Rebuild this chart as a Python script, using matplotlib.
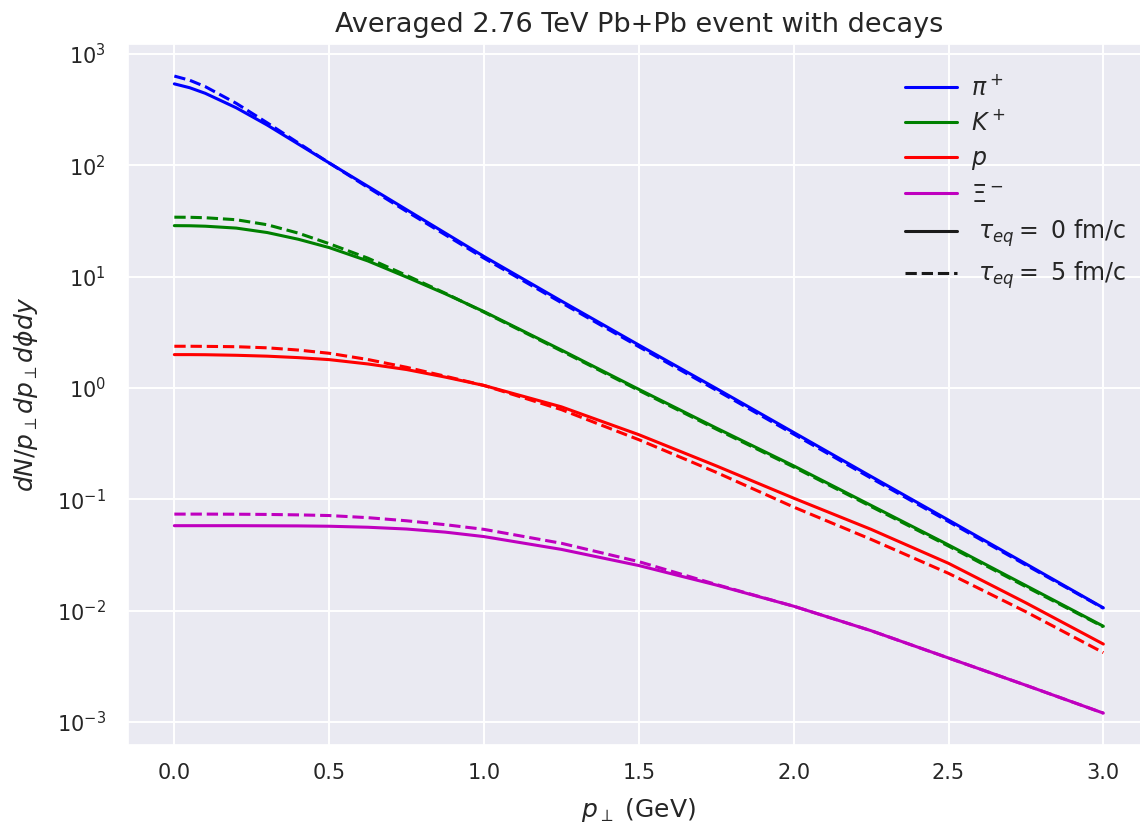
import numpy as np
import matplotlib
matplotlib.use("Agg")
import matplotlib.pyplot as plt
import seaborn as sns

# transverse momentum grid (GeV)
pt = [0.0, 0.05, 0.1, 0.2, 0.3, 0.4, 0.5, 0.625, 0.75, 0.875, 1.0,
      1.25, 1.5, 1.75, 2.0, 2.25, 2.5, 2.75, 3.0]

# log10 of dN/(pT dpT dphi dy)
pion_tau0 = [2.73, 2.695, 2.645, 2.515, 2.36, 2.19, 2.02, 1.81, 1.60, 1.39, 1.18,
             0.78, 0.385, -0.005, -0.40, -0.795, -1.187, -1.58, -1.975]
pion_tau5 = [2.80, 2.762, 2.705, 2.555, 2.38, 2.20, 2.02, 1.80, 1.585, 1.375, 1.165,
             0.765, 0.37, -0.02, -0.415, -0.81, -1.20, -1.59, -1.978]
kaon_tau0 = [1.457, 1.456, 1.452, 1.435, 1.395, 1.335, 1.26, 1.14, 0.995, 0.845, 0.685,
             0.34, -0.013, -0.36, -0.70, -1.055, -1.41, -1.775, -2.14]
kaon_tau5 = [1.533, 1.532, 1.528, 1.51, 1.465, 1.39, 1.295, 1.165, 1.01, 0.85, 0.68,
             0.332, -0.022, -0.37, -0.71, -1.065, -1.42, -1.785, -2.145]
proton_tau0 = [0.299, 0.299, 0.298, 0.293, 0.285, 0.272, 0.254, 0.215, 0.165, 0.097, 0.022,
               -0.17, -0.42, -0.70, -0.99, -1.27, -1.575, -1.93, -2.30]
proton_tau5 = [0.374, 0.374, 0.373, 0.37, 0.36, 0.34, 0.311, 0.255, 0.185, 0.105, 0.022,
               -0.195, -0.465, -0.758, -1.07, -1.36, -1.665, -2.01, -2.377]
xi_tau0 = [-1.237, -1.237, -1.237, -1.237, -1.238, -1.239, -1.242, -1.251, -1.267, -1.295, -1.335,
           -1.45, -1.595, -1.77, -1.96, -2.18, -2.425, -2.67, -2.92]
xi_tau5 = [-1.133, -1.133, -1.133, -1.134, -1.136, -1.14, -1.146, -1.165, -1.193, -1.228, -1.27,
           -1.395, -1.56, -1.765, -1.96, -2.18, -2.425, -2.67, -2.92]

species = [r'$\pi^+$', r'$K^+$', r'$p$', r'$\Xi^-$']
colors = ['#0000ff', '#008000', '#ff0000', '#bf00bf']
solid_sets = [pion_tau0, kaon_tau0, proton_tau0, xi_tau0]
dashed_sets = [pion_tau5, kaon_tau5, proton_tau5, xi_tau5]
tau_labels = [r' $\tau_{eq} =$ 0 fm/c', r' $\tau_{eq} =$ 5 fm/c']

title = 'Averaged 2.76 TeV Pb+Pb event with decays'
xlabel = r'$p_\perp$ (GeV)'
ylabel = r'$dN/p_\perp dp_\perp d\phi dy$'

sns.set_theme(style='darkgrid')
plt.rcParams['font.family'] = ['DejaVu Sans']

fig = plt.figure(figsize=(11.4, 8.25), dpi=100)
ax = fig.add_axes([0.1122, 0.0970, 0.8964, 0.8494])

lw = 2.2
x = np.array(pt)
for name, c, s, d in zip(species, colors, solid_sets, dashed_sets):
    ax.plot(x, 10 ** np.array(s), color=c, lw=lw, ls='-', label=name)
    ax.plot(x, 10 ** np.array(d), color=c, lw=lw, ls='--')

ax.plot([], [], color='k', lw=lw, ls='-', label=tau_labels[0])
ax.plot([], [], color='k', lw=lw, ls='--', label=tau_labels[1])

ax.set_yscale('log')
ax.set_xticks([0.0, 0.5, 1.0, 1.5, 2.0, 2.5, 3.0])
ax.tick_params(axis='x', labelsize=15, colors='0.15', length=0, pad=13)
ax.tick_params(axis='y', labelsize=15, colors='0.15', length=0, pad=16)
ax.grid(True, color='white', lw=1.4)

ax.set_title(title, fontsize=19.5, color='0.15', pad=9)
ax.set_xlabel(xlabel, fontsize=18, color='0.15', labelpad=9)
ax.set_ylabel(ylabel, fontsize=18, color='0.15', labelpad=12)

ax.legend(loc='upper right', bbox_to_anchor=(1.0, 0.99), frameon=False,
          fontsize=17, labelspacing=0.45, handlelength=2.2, handletextpad=0.6,
          borderaxespad=0.6)

fig.savefig('out.png', dpi=100)
